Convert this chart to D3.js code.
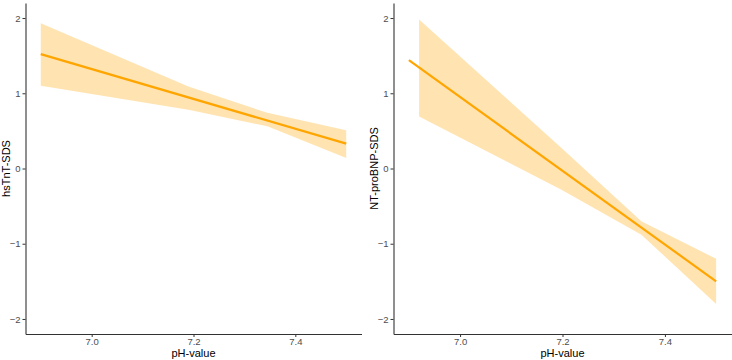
<!DOCTYPE html>
<html>
<head>
<meta charset="utf-8">
<script src="https://cdn.jsdelivr.net/npm/d3@7"></script>
<style>
  html, body { margin: 0; padding: 0; background: #fff; }
  svg { display: block; }
</style>
</head>
<body>
<svg id="chart" width="732" height="360"></svg>
<script>
// ---- data ----
const xTicks = [7.0, 7.2, 7.4];
const yTicks = [-2, -1, 0, 1, 2];
const xTitle = "pH-value";

const hsTitle = "hsTnT-SDS";
const hsLinePH = [6.9, 7.5];
const hsLineVal = [1.52, 0.33];
const hsBandPH = [6.9, 7.19, 7.345, 7.5];
const hsBandLow = [1.10, 0.78, 0.56, 0.14];
const hsBandHigh = [1.93, 1.09, 0.74, 0.51];

const ntTitle = "NT-proBNP-SDS";
const ntLinePH = [6.9, 7.5];
const ntLineVal = [1.44, -1.50];
const ntBandPH = [6.92, 7.197, 7.354, 7.5];
const ntBandLow = [0.69, -0.28, -0.88, -1.80];
const ntBandHigh = [1.98, 0.28, -0.70, -1.20];

// ---- drawing ----
const svg = d3.select("#chart");
const xDomain = [6.87, 7.53];
const yDomain = [-2.2, 2.2];
const panelTop = 3, panelBottom = 334;
const font = "Liberation Sans, Arial, sans-serif";

function panel(left, right, title, linePH, lineVal, bandPH, bandLow, bandHigh) {
  const x = d3.scaleLinear().domain(xDomain).range([left, right]);
  const y = d3.scaleLinear().domain(yDomain).range([panelBottom, panelTop]);
  const g = svg.append("g");

  const band = bandPH.map((p, i) => ({p, lo: bandLow[i], hi: bandHigh[i]}));
  g.append("path")
    .datum(band)
    .attr("fill", "orange")
    .attr("fill-opacity", 0.3)
    .attr("d", d3.area().x(d => x(d.p)).y0(d => y(d.lo)).y1(d => y(d.hi)));

  const line = linePH.map((p, i) => ({p, v: lineVal[i]}));
  g.append("path")
    .datum(line)
    .attr("fill", "none")
    .attr("stroke", "#FFA500")
    .attr("stroke-width", 2.2)
    .attr("d", d3.line().x(d => x(d.p)).y(d => y(d.v)));

  const ya = g.append("g")
    .attr("transform", `translate(${left},0)`)
    .call(d3.axisLeft(y).tickValues(yTicks).tickFormat(d3.format("d")).tickSize(3).tickSizeOuter(0).tickPadding(2));
  const xa = g.append("g")
    .attr("transform", `translate(0,${panelBottom})`)
    .call(d3.axisBottom(x).tickValues(xTicks).tickFormat(d3.format(".1f")).tickSize(3).tickSizeOuter(0).tickPadding(1));

  [ya, xa].forEach(a => {
    a.select(".domain").attr("stroke", "#333").attr("stroke-width", 1.1);
    a.selectAll(".tick line").attr("stroke", "#333").attr("stroke-width", 1);
    a.selectAll(".tick text").attr("fill", "#4D4D4D")
      .style("font-family", font).style("font-size", "9.5px");
  });

  g.append("text")
    .attr("x", (left + right) / 2)
    .attr("y", 357)
    .attr("text-anchor", "middle")
    .style("font-family", font)
    .style("font-size", "11px")
    .attr("fill", "#000")
    .text(xTitle);

  g.append("text")
    .attr("transform", `translate(${left - 16},${(panelTop + panelBottom) / 2}) rotate(-90)`)
    .attr("text-anchor", "middle")
    .style("font-family", font)
    .style("font-size", "11px")
    .attr("fill", "#000")
    .text(title);
}

panel(25.5, 361.5, hsTitle, hsLinePH, hsLineVal, hsBandPH, hsBandLow, hsBandHigh);
panel(393.5, 731.5, ntTitle, ntLinePH, ntLineVal, ntBandPH, ntBandLow, ntBandHigh);
</script>
</body>
</html>
